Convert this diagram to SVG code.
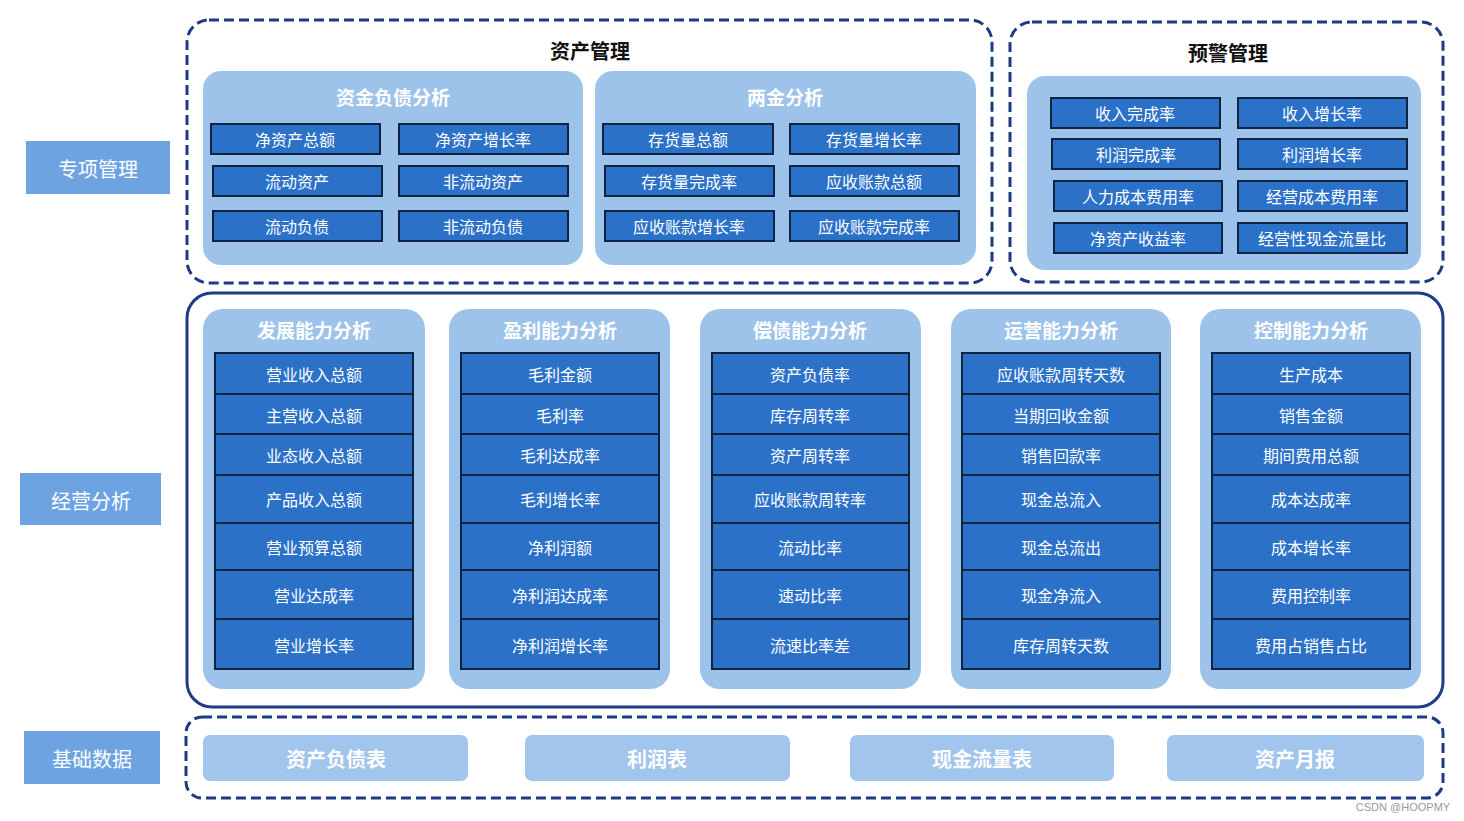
<svg xmlns="http://www.w3.org/2000/svg" width="1464" height="821" viewBox="0 0 1464 821">
<style>
text{font-family:"Noto Sans CJK SC","Noto Sans",sans-serif;text-anchor:middle;dominant-baseline:central}
.side{fill:#6ea3e2}
.sidet{fill:#fff;font-size:20px}
.dash{fill:none;stroke:#1d3a86;stroke-width:3;stroke-dasharray:10 5}
.solid{fill:none;stroke:#1f3b8a;stroke-width:3}
.panel{fill:#9ec3eb}
.ptitle{fill:#fff;font-size:19px;font-weight:bold}
.gtitle{fill:#111;font-size:20px;font-weight:bold}
.item{fill:#2b71c8;stroke:#0f2342;stroke-width:2}
.it{fill:#fff;font-size:16px}
.base{fill:#a1c5ec}
.bt{fill:#fff;font-size:20px;font-weight:bold}
</style>

<g id="labels">
<g id="lbl-zxgl"><rect class="side" x="26" y="141" width="144" height="53"/><text class="sidet" x="98" y="168">专项管理</text></g>
<g id="lbl-jyfx"><rect class="side" x="20" y="473" width="141" height="52"/><text class="sidet" x="91" y="500">经营分析</text></g>
<g id="lbl-jcsj"><rect class="side" x="24" y="731" width="136" height="53"/><text class="sidet" x="92" y="758">基础数据</text></g>
</g>

<g id="asset-mgmt">
<rect class="dash" x="187" y="20" width="805" height="263" rx="22"/>
<text class="gtitle" x="590" y="50">资产管理</text>
<g id="zjfz">
<rect class="panel" x="203" y="71" width="380" height="194" rx="18"/>
<text class="ptitle" x="393" y="96">资金负债分析</text>
<rect class="item" x="211" y="124" width="169" height="30"/><text class="it" x="295" y="139">净资产总额</text>
<rect class="item" x="399" y="124" width="169" height="30"/><text class="it" x="483" y="139">净资产增长率</text>
<rect class="item" x="213" y="166" width="169" height="30"/><text class="it" x="297" y="181">流动资产</text>
<rect class="item" x="399" y="166" width="169" height="30"/><text class="it" x="483" y="181">非流动资产</text>
<rect class="item" x="213" y="211" width="169" height="30"/><text class="it" x="297" y="226">流动负债</text>
<rect class="item" x="399" y="211" width="169" height="30"/><text class="it" x="483" y="226">非流动负债</text>
</g>
<g id="ljfx">
<rect class="panel" x="595" y="71" width="381" height="194" rx="18"/>
<text class="ptitle" x="785" y="96">两金分析</text>
<rect class="item" x="603" y="124" width="170" height="30"/><text class="it" x="688" y="139">存货量总额</text>
<rect class="item" x="790" y="124" width="169" height="30"/><text class="it" x="874" y="139">存货量增长率</text>
<rect class="item" x="605" y="166" width="169" height="30"/><text class="it" x="689" y="181">存货量完成率</text>
<rect class="item" x="790" y="166" width="169" height="30"/><text class="it" x="874" y="181">应收账款总额</text>
<rect class="item" x="605" y="211" width="169" height="30"/><text class="it" x="689" y="226">应收账款增长率</text>
<rect class="item" x="790" y="211" width="169" height="30"/><text class="it" x="874" y="226">应收账款完成率</text>
</g>
</g>

<g id="warn-mgmt">
<rect class="dash" x="1010" y="22" width="433" height="260" rx="22"/>
<text class="gtitle" x="1228" y="52">预警管理</text>
<rect class="panel" x="1027" y="76" width="394" height="194" rx="18"/>
<rect class="item" x="1051" y="98" width="169" height="30"/><text class="it" x="1135" y="113">收入完成率</text>
<rect class="item" x="1238" y="98" width="169" height="30"/><text class="it" x="1322" y="113">收入增长率</text>
<rect class="item" x="1052" y="139" width="168" height="30"/><text class="it" x="1136" y="154">利润完成率</text>
<rect class="item" x="1238" y="139" width="169" height="30"/><text class="it" x="1322" y="154">利润增长率</text>
<rect class="item" x="1054" y="181" width="168" height="30"/><text class="it" x="1138" y="196">人力成本费用率</text>
<rect class="item" x="1238" y="181" width="169" height="30"/><text class="it" x="1322" y="196">经营成本费用率</text>
<rect class="item" x="1054" y="223" width="168" height="30"/><text class="it" x="1138" y="238">净资产收益率</text>
<rect class="item" x="1238" y="223" width="169" height="30"/><text class="it" x="1322" y="238">经营性现金流量比</text>
</g>

<g id="biz-analysis">
<rect class="solid" x="187" y="293" width="1256" height="414" rx="25"/>
<g id="fznl">
<rect class="panel" x="203" y="309" width="222" height="380" rx="20"/>
<text class="ptitle" x="314" y="329">发展能力分析</text>
<rect class="item" x="215" y="353" width="198" height="41"/><text class="it" x="314" y="374">营业收入总额</text>
<rect class="item" x="215" y="394" width="198" height="40"/><text class="it" x="314" y="415">主营收入总额</text>
<rect class="item" x="215" y="434" width="198" height="41"/><text class="it" x="314" y="455">业态收入总额</text>
<rect class="item" x="215" y="475" width="198" height="48"/><text class="it" x="314" y="499">产品收入总额</text>
<rect class="item" x="215" y="523" width="198" height="47"/><text class="it" x="314" y="547">营业预算总额</text>
<rect class="item" x="215" y="570" width="198" height="49"/><text class="it" x="314" y="595">营业达成率</text>
<rect class="item" x="215" y="619" width="198" height="50"/><text class="it" x="314" y="645">营业增长率</text>
</g>
<g id="ylnl">
<rect class="panel" x="449" y="309" width="221" height="380" rx="20"/>
<text class="ptitle" x="560" y="329">盈利能力分析</text>
<rect class="item" x="461" y="353" width="198" height="41"/><text class="it" x="560" y="374">毛利金额</text>
<rect class="item" x="461" y="394" width="198" height="40"/><text class="it" x="560" y="415">毛利率</text>
<rect class="item" x="461" y="434" width="198" height="41"/><text class="it" x="560" y="455">毛利达成率</text>
<rect class="item" x="461" y="475" width="198" height="48"/><text class="it" x="560" y="499">毛利增长率</text>
<rect class="item" x="461" y="523" width="198" height="47"/><text class="it" x="560" y="547">净利润额</text>
<rect class="item" x="461" y="570" width="198" height="49"/><text class="it" x="560" y="595">净利润达成率</text>
<rect class="item" x="461" y="619" width="198" height="50"/><text class="it" x="560" y="645">净利润增长率</text>
</g>
<g id="cznl">
<rect class="panel" x="700" y="309" width="221" height="380" rx="20"/>
<text class="ptitle" x="810" y="329">偿债能力分析</text>
<rect class="item" x="712" y="353" width="197" height="41"/><text class="it" x="810" y="374">资产负债率</text>
<rect class="item" x="712" y="394" width="197" height="40"/><text class="it" x="810" y="415">库存周转率</text>
<rect class="item" x="712" y="434" width="197" height="41"/><text class="it" x="810" y="455">资产周转率</text>
<rect class="item" x="712" y="475" width="197" height="48"/><text class="it" x="810" y="499">应收账款周转率</text>
<rect class="item" x="712" y="523" width="197" height="47"/><text class="it" x="810" y="547">流动比率</text>
<rect class="item" x="712" y="570" width="197" height="49"/><text class="it" x="810" y="595">速动比率</text>
<rect class="item" x="712" y="619" width="197" height="50"/><text class="it" x="810" y="645">流速比率差</text>
</g>
<g id="yynl">
<rect class="panel" x="951" y="309" width="220" height="380" rx="20"/>
<text class="ptitle" x="1061" y="329">运营能力分析</text>
<rect class="item" x="962" y="353" width="198" height="41"/><text class="it" x="1061" y="374">应收账款周转天数</text>
<rect class="item" x="962" y="394" width="198" height="40"/><text class="it" x="1061" y="415">当期回收金额</text>
<rect class="item" x="962" y="434" width="198" height="41"/><text class="it" x="1061" y="455">销售回款率</text>
<rect class="item" x="962" y="475" width="198" height="48"/><text class="it" x="1061" y="499">现金总流入</text>
<rect class="item" x="962" y="523" width="198" height="47"/><text class="it" x="1061" y="547">现金总流出</text>
<rect class="item" x="962" y="570" width="198" height="49"/><text class="it" x="1061" y="595">现金净流入</text>
<rect class="item" x="962" y="619" width="198" height="50"/><text class="it" x="1061" y="645">库存周转天数</text>
</g>
<g id="kznl">
<rect class="panel" x="1200" y="309" width="221" height="380" rx="20"/>
<text class="ptitle" x="1311" y="329">控制能力分析</text>
<rect class="item" x="1212" y="353" width="198" height="41"/><text class="it" x="1311" y="374">生产成本</text>
<rect class="item" x="1212" y="394" width="198" height="40"/><text class="it" x="1311" y="415">销售金额</text>
<rect class="item" x="1212" y="434" width="198" height="41"/><text class="it" x="1311" y="455">期间费用总额</text>
<rect class="item" x="1212" y="475" width="198" height="48"/><text class="it" x="1311" y="499">成本达成率</text>
<rect class="item" x="1212" y="523" width="198" height="47"/><text class="it" x="1311" y="547">成本增长率</text>
<rect class="item" x="1212" y="570" width="198" height="49"/><text class="it" x="1311" y="595">费用控制率</text>
<rect class="item" x="1212" y="619" width="198" height="50"/><text class="it" x="1311" y="645">费用占销售占比</text>
</g>
</g>

<g id="base-data">
<rect class="dash" x="186" y="717" width="1257" height="81" rx="16"/>
<g id="b1"><rect class="base" x="203" y="735" width="265" height="46" rx="7"/><text class="bt" x="336" y="758">资产负债表</text></g>
<g id="b2"><rect class="base" x="525" y="735" width="265" height="46" rx="7"/><text class="bt" x="657" y="758">利润表</text></g>
<g id="b3"><rect class="base" x="850" y="735" width="264" height="46" rx="7"/><text class="bt" x="982" y="758">现金流量表</text></g>
<g id="b4"><rect class="base" x="1167" y="735" width="257" height="46" rx="7"/><text class="bt" x="1295" y="758">资产月报</text></g>
</g>

<g id="connectors"/>
<text x="1403" y="807" style="font-family:'Liberation Sans',sans-serif;font-size:11px;fill:#999">CSDN @HOOPMY</text>
</svg>
